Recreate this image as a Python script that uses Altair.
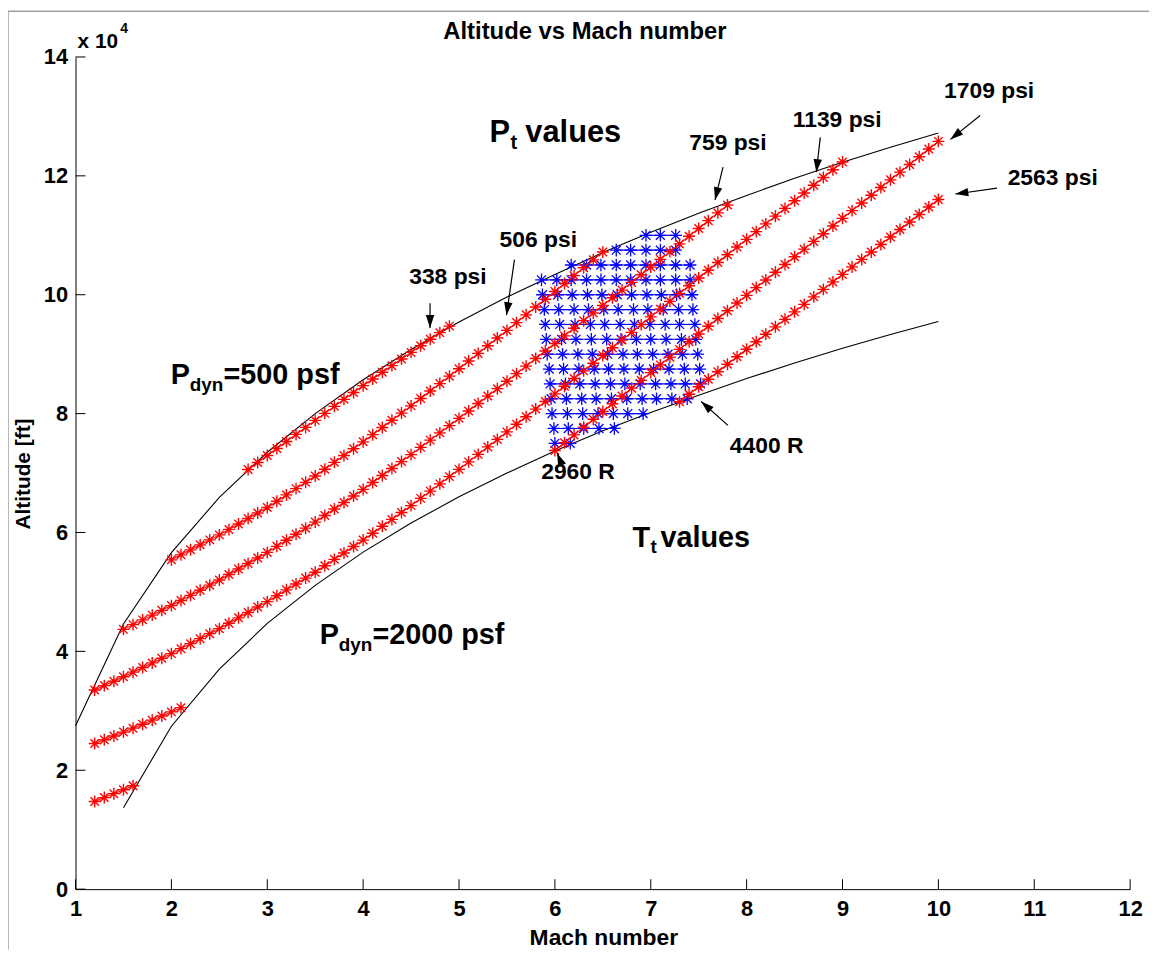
import math
import altair as alt
import pandas as pd

FONT = "Liberation Sans"
RED = "#ff0000"
BLUE = "#0000ff"

# ------------------------------------------------------------------ data
# Dynamic-pressure boundary polylines
q500_mach = [1.0, 1.5, 2.0, 2.5, 3.0, 3.5, 4.0, 4.5, 5.0, 5.5, 6.0, 6.5, 7.0, 7.5, 8.0, 8.5, 9.0, 9.5, 10.0]
q500_alt = [27500, 44600, 56600, 65900, 73500, 80000, 85700, 90800, 95400, 99600, 103400,
            107100, 110500, 113700, 116700, 119600, 122300, 124800, 127200]
q2000_mach = [1.5, 2.0, 2.5, 3.0, 3.5, 4.0, 4.5, 5.0, 5.5, 6.0, 6.5, 7.0, 7.5, 8.0, 8.5, 9.0, 9.5, 10.0]
q2000_alt = [13700, 27400, 37000, 44700, 51100, 56700, 61600, 66000, 70000, 73700, 77100,
             80200, 83100, 85900, 88500, 91000, 93300, 95500]

# Constant total-pressure lines (markers every 0.1 Mach from the start Mach)
pt338_start = 2.8
pt338_alt = [70600, 71780, 72960, 74140, 75320, 76500, 77680, 78860, 80040, 81220, 82400,
             83560, 84700, 85830, 86950, 88070, 89190, 90300, 91410, 92520, 93620, 94720]
pt506_start = 2.0
pt506_alt = [55400, 56240, 57080, 57920, 58760, 59600, 60520, 61440, 62360, 63280, 64200,
             65260, 66320, 67380, 68440, 69500, 70650, 71800, 72950, 74100, 75250,
             76460, 77670, 78880, 80090, 81300, 82550, 83800, 85050, 86300, 87550,
             88840, 90130, 91420, 92710, 94000, 95310, 96620, 97930, 99240, 100550,
             101880, 103210, 104540, 105870, 107200]
pt759_start = 1.5
pt759_alt = [43700, 44500, 45300, 46100, 46900, 47700, 48560, 49420, 50280, 51140, 52000,
             52930, 53860, 54790, 55720, 56650, 57670, 58690, 59710, 60730, 61750,
             62850, 63950, 65050, 66150, 67250, 68420, 69590, 70760, 71930, 73100,
             74320, 75540, 76760, 77980, 79200, 80450, 81700, 82950, 84200, 85450,
             86720, 87990, 89260, 90530, 91800, 93080, 94360, 95640, 96920, 98200,
             99490, 100780, 102070, 103360, 104650, 105950, 107250, 108550, 109850, 111150,
             112460, 113770, 115080]
pt1139_start = 1.2
pt1139_alt = [33500, 34240, 34980, 35720, 36500, 37280, 38060, 38840, 39620,
              40460, 41300, 42140, 42980, 43820, 44730, 45640, 46550, 47460, 48370,
              49360, 50350, 51340, 52330, 53320, 54400, 55480, 56560, 57640, 58720,
              59880, 61040, 62200, 63360, 64520, 65740, 66960, 68180, 69400, 70620,
              71880, 73140, 74400, 75660, 76920, 78200, 79480, 80760, 82040, 83320,
              84610, 85900, 87190, 88480, 89770, 91070, 92370, 93670, 94970, 96270,
              97580, 98890, 100200, 101510, 102820, 104120, 105420, 106720, 108020, 109320,
              110620, 111920, 113220, 114520, 115820, 117120, 118420, 119720, 121020, 122320]
pt1709a_start = 1.2
pt1709a_alt = [24500, 25130, 25770, 26420, 27080, 27750, 28430, 29120, 29820, 30530]
pt1709b_start = 6.0
pt1709b_alt = [73800, 75110, 76420, 77730, 79040, 80350, 81660, 82970, 84280, 85590, 86900,
               88200, 89500, 90800, 92100, 93400, 94700, 96000, 97300, 98600, 99900,
               101200, 102490, 103790, 105080, 106380, 107670, 108970, 110260, 111560, 112850,
               114150, 115440, 116740, 118030, 119330, 120620, 121920, 123210, 124510, 125800]
pt2563a_start = 1.2
pt2563a_alt = [14750, 15400, 16060, 16730, 17400]
pt2563b_start = 7.3
pt2563b_alt = [82000, 83260, 84520, 85780, 87040, 88300, 89560, 90820, 92080, 93340,
               94600, 95860, 97120, 98380, 99640, 100900, 102160, 103420, 104680, 105940,
               107200, 108460, 109720, 110980, 112240, 113500, 114760, 116020]

# Constant total-temperature grid (rows of constant altitude)
tt_rows_alt = [110000, 107500, 105000, 102500, 100000, 97500, 95000, 92500, 90000,
               87500, 85000, 82500, 80000, 77500, 75000]
tt_rows_mach = [
    [6.95, 7.10, 7.26],
    [6.64, 6.79, 6.95, 7.10, 7.26],
    [6.17, 6.33, 6.48, 6.64, 6.79, 6.95, 7.10, 7.26, 7.41],
    [5.86, 6.02, 6.17, 6.33, 6.48, 6.64, 6.79, 6.95, 7.10, 7.26, 7.41],
    [5.87, 6.03, 6.18, 6.34, 6.49, 6.65, 6.80, 6.96, 7.11, 7.27, 7.43],
    [5.89, 6.04, 6.20, 6.35, 6.51, 6.66, 6.82, 6.97, 7.13, 7.29, 7.44],
    [5.90, 6.05, 6.21, 6.37, 6.52, 6.68, 6.83, 6.99, 7.15, 7.30, 7.46],
    [5.91, 6.07, 6.22, 6.38, 6.54, 6.69, 6.85, 7.00, 7.16, 7.32, 7.47],
    [5.92, 6.08, 6.24, 6.39, 6.55, 6.71, 6.86, 7.02, 7.18, 7.33, 7.49],
    [5.94, 6.09, 6.25, 6.41, 6.56, 6.72, 6.88, 7.03, 7.19, 7.35, 7.51],
    [5.95, 6.11, 6.26, 6.42, 6.58, 6.73, 6.89, 7.05, 7.21, 7.36, 7.52],
    [5.96, 6.12, 6.28, 6.43, 6.59, 6.75, 6.91, 7.06, 7.22, 7.38],
    [5.97, 6.13, 6.29, 6.45, 6.61, 6.76, 6.92],
    [5.99, 6.14, 6.30, 6.46, 6.62],
    [6.00, 6.16],
]

x_tick_values = [1, 2, 3, 4, 5, 6, 7, 8, 9, 10, 11, 12]
y_tick_values = [0, 20000, 40000, 60000, 80000, 100000, 120000, 140000]

# ------------------------------------------------------------- layout
W, H = 1062, 838
PAD = {"left": 68, "top": 46, "right": 19, "bottom": 61}
OX, OY = 8 + PAD["left"], 8 + PAD["top"]      # page position of plot origin
XMIN, XMAX, YMIN, YMAX = 1, 12, 0, 140000


def px2m(px):
    return XMIN + (px - OX) / W * (XMAX - XMIN)


def py2h(py):
    return YMAX - (py - OY) / H * (YMAX - YMIN)


# annotation texts: (text, page x, page baseline y, font size, align)
texts = [
    ("338 psi", 451, 283, 23, "center"),
    ("506 psi", 542, 245, 23, "center"),
    ("759 psi", 733, 148, 23, "center"),
    ("1139 psi", 843, 125, 23, "center"),
    ("1709 psi", 996, 95, 23, "center"),
    ("2563 psi", 1060, 183, 23, "center"),
    ("4400 R", 772, 453, 23, "center"),
    ("2960 R", 582, 479, 23, "center"),
    # composite labels with subscripts (left aligned pieces)
    ("P", 493, 140, 31, "left"), ("t", 514, 147, 20, "left"), ("values", 529, 140, 31, "left"),
    ("T", 637, 547, 29, "left"), ("t", 655, 554, 19, "left"), ("values", 665, 547, 29, "left"),
    ("P", 172, 383, 29, "left"), ("dyn", 191, 390, 19, "left"), ("=500 psf", 225, 383, 29, "left"),
    ("P", 322, 645, 29, "left"), ("dyn", 341, 652, 19, "left"), ("=2000 psf", 375, 645, 29, "left"),
]

# arrows: (tail x, tail y, tip x, tip y) in page pixels
arrows = [
    (433, 302, 433, 327),
    (518, 258, 510, 314),
    (728, 165, 720, 198),
    (826, 135, 822, 170),
    (987, 113, 957, 137),
    (1004, 186, 962, 192),
    (733, 425, 706, 401),
    (568, 470, 561, 453),
]

STAR = "M-1,0L1,0M0,-1L0,1M-0.71,-0.71L0.71,0.71M-0.71,0.71L0.71,-0.71"
HEAD = "M0,0L-2,-0.65L-2,0.65Z"

# ------------------------------------------------------------- tables
bound_df = pd.DataFrame(
    [{"curve": "q500", "M": m, "h": h} for m, h in zip(q500_mach, q500_alt)]
    + [{"curve": "q2000", "M": m, "h": h} for m, h in zip(q2000_mach, q2000_alt)]
)

red_series = [
    ("338", pt338_start, pt338_alt),
    ("506", pt506_start, pt506_alt),
    ("759", pt759_start, pt759_alt),
    ("1139", pt1139_start, pt1139_alt),
    ("1709a", pt1709a_start, pt1709a_alt),
    ("1709b", pt1709b_start, pt1709b_alt),
    ("2563a", pt2563a_start, pt2563a_alt),
    ("2563b", pt2563b_start, pt2563b_alt),
]
red_rows = []
for seg, start, alts in red_series:
    for i, h in enumerate(alts):
        red_rows.append({"seg": seg, "M": round(start + 0.1 * i, 2), "h": h})
red_df = pd.DataFrame(red_rows)

blue_rows = []
for r, (h, ms) in enumerate(zip(tt_rows_alt, tt_rows_mach)):
    for m in ms:
        blue_rows.append({"row": r, "M": m, "h": h})
blue_df = pd.DataFrame(blue_rows)

text_df = pd.DataFrame(
    [{"text": t, "M": px2m(x), "h": py2h(y), "size": s, "align": a} for t, x, y, s, a in texts]
)
arrow_rows = []
for x1, y1, x2, y2 in arrows:
    ang = math.degrees(math.atan2(y2 - y1, x2 - x1)) % 360
    arrow_rows.append({"M1": px2m(x1), "h1": py2h(y1), "M2": px2m(x2), "h2": py2h(y2), "ang": ang})
arrow_df = pd.DataFrame(arrow_rows)

# ------------------------------------------------------------- encodings
xs = alt.Scale(domain=[XMIN, XMAX], nice=False, zero=False)
ys = alt.Scale(domain=[YMIN, YMAX], nice=False, zero=False)
xaxis = alt.Axis(values=x_tick_values, format="d", ticks=False, grid=False, domainColor="black",
                 domainWidth=1, labelFont=FONT, labelFontSize=22, labelFontWeight="bold",
                 labelColor="black", labelPadding=10, title=None, labelFlush=False,
                 labelOverlap=False)
yaxis = alt.Axis(values=y_tick_values, labelExpr="datum.value / 10000", ticks=False, grid=False,
                 domainColor="black", domainWidth=1, labelFont=FONT, labelFontSize=22,
                 labelFontWeight="bold", labelColor="black", labelPadding=8, title=None,
                 labelFlush=False, labelOverlap=False)


def X(f):
    return alt.X(f, type="quantitative", scale=xs, axis=xaxis)


def Y(f):
    return alt.Y(f, type="quantitative", scale=ys, axis=yaxis)


one = pd.DataFrame({"a": [0]})

bounds = alt.Chart(bound_df).mark_line(color="black", strokeWidth=1.1).encode(
    x=X("M"), y=Y("h"), detail="curve:N")

blue_lines = alt.Chart(blue_df).mark_line(color=BLUE, strokeWidth=1.1).encode(
    x=X("M"), y=Y("h"), detail="row:N")
blue_pts = alt.Chart(blue_df).mark_point(shape=STAR, size=160, color=BLUE, strokeWidth=1.3,
                                         opacity=1, filled=False).encode(x=X("M"), y=Y("h"))

red_lines = alt.Chart(red_df).mark_line(color=RED, strokeWidth=1.1).encode(
    x=X("M"), y=Y("h"), detail="seg:N")
red_pts = alt.Chart(red_df).mark_point(shape=STAR, size=145, color=RED, strokeWidth=1.4,
                                       opacity=1, filled=False).encode(x=X("M"), y=Y("h"))

ytick = alt.Chart(pd.DataFrame({"v": y_tick_values})).mark_rule(color="black", strokeWidth=1).encode(
    y=Y("v"), x=alt.value(0), x2=alt.value(10))
xtick = alt.Chart(pd.DataFrame({"v": x_tick_values})).mark_rule(color="black", strokeWidth=1).encode(
    x=X("v"), y=alt.value(H), y2=alt.value(H - 10))

text_center = alt.Chart(text_df).transform_filter(alt.datum.align == "center").mark_text(
    font=FONT, fontWeight="bold", color="black", align="center", baseline="alphabetic").encode(
    x=X("M"), y=Y("h"), text="text:N", size=alt.Size("size:Q", scale=None, legend=None))
text_left = alt.Chart(text_df).transform_filter(alt.datum.align == "left").mark_text(
    font=FONT, fontWeight="bold", color="black", align="left", baseline="alphabetic").encode(
    x=X("M"), y=Y("h"), text="text:N", size=alt.Size("size:Q", scale=None, legend=None))

shafts = alt.Chart(arrow_df).mark_rule(color="black", strokeWidth=1.2).encode(
    x=X("M1"), y=Y("h1"), x2="M2", y2="h2")
heads = alt.Chart(arrow_df).mark_point(shape=HEAD, size=170, filled=True, color="black",
                                       opacity=1, strokeWidth=0).encode(
    x=X("M2"), y=Y("h2"), angle=alt.Angle("ang:Q", scale=None))


def label(txt, px, py, size, bold=True, angle=0, align="center", baseline="alphabetic"):
    return alt.Chart(one).mark_text(text=txt, font=FONT, fontSize=size,
                                    fontWeight="bold" if bold else "normal", color="black",
                                    align=align, baseline=baseline, angle=angle).encode(
        x=alt.value(px - OX), y=alt.value(py - OY))


title = label("Altitude vs Mach number", 589, 36, 24)
xtitle = label("Mach number", 608, 948, 23)
ytitle = label("Altitude [ft]", 24, 474, 21, angle=270, baseline="middle")
exp_base = label("x 10", 78, 45, 21, align="left")
exp_pow = label("4", 121, 30, 14, align="left")

frame_left = alt.Chart(one).mark_rule(color="#a0a0a0", strokeWidth=1.5).encode(
    x=alt.value(-PAD["left"]), y=alt.value(-PAD["top"]), y2=alt.value(H + PAD["bottom"]))
frame_top = alt.Chart(one).mark_rule(color="#a0a0a0", strokeWidth=1.5).encode(
    x=alt.value(-PAD["left"]), x2=alt.value(W + PAD["right"]), y=alt.value(-PAD["top"]))

chart = alt.layer(
    frame_left, frame_top,
    bounds, blue_lines, blue_pts, red_lines, red_pts,
    ytick, xtick, shafts, heads, text_center, text_left,
    title, xtitle, ytitle, exp_base, exp_pow,
).properties(
    width=W, height=H, padding=PAD, autosize=alt.AutoSizeParams(type="none"),
    background="white",
).configure_view(stroke=None)

chart.save("out.html", embed_options={"renderer": "svg", "actions": False})
